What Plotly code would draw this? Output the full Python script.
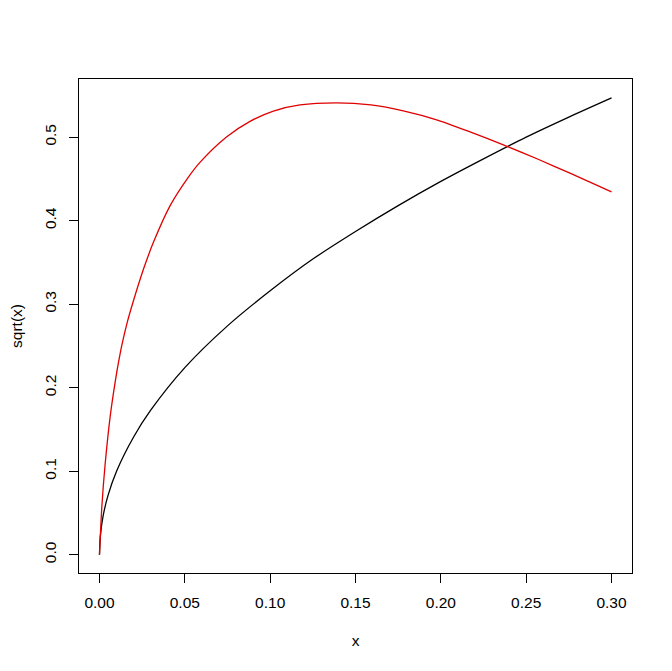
import plotly.graph_objects as go

# black curve: sqrt(x)
x_black = [0, 0.0005, 0.002, 0.005, 0.01, 0.02, 0.03, 0.05, 0.075, 0.1,
           0.125, 0.15, 0.175, 0.2, 0.225, 0.25, 0.275, 0.3]
y_black = [0, 0.022, 0.045, 0.071, 0.100, 0.141, 0.173, 0.224, 0.274, 0.316,
           0.354, 0.387, 0.418, 0.447, 0.474, 0.500, 0.524, 0.547]

# red curve
x_red = [0, 0.0014, 0.0033, 0.0063, 0.0096, 0.0113, 0.0131, 0.0163, 0.0196,
         0.0258, 0.0316, 0.0414, 0.0521, 0.059, 0.0746, 0.0882, 0.1019, 0.1175,
         0.139, 0.159, 0.178, 0.198, 0.2175, 0.237, 0.257, 0.276, 0.3]
y_red = [0, 0.058, 0.108, 0.166, 0.212, 0.232, 0.251, 0.2785, 0.302,
         0.342, 0.374, 0.418, 0.4522, 0.4701, 0.5005, 0.5189, 0.5312, 0.5385,
         0.541, 0.5385, 0.5315, 0.5205, 0.506, 0.4905, 0.4735, 0.4565, 0.4345]

x_ticks = [0, 0.05, 0.10, 0.15, 0.20, 0.25, 0.30]
x_ticklabels = ["0.00", "0.05", "0.10", "0.15", "0.20", "0.25", "0.30"]
y_ticks = [0, 0.1, 0.2, 0.3, 0.4, 0.5]
y_ticklabels = ["0.0", "0.1", "0.2", "0.3", "0.4", "0.5"]

font = dict(family="Liberation Sans, Arial, sans-serif", size=15.5, color="black")

fig = go.Figure()
fig.add_trace(go.Scatter(x=x_black, y=y_black, mode="lines",
                         line=dict(color="black", width=1.3, shape="spline", smoothing=0.8)))
fig.add_trace(go.Scatter(x=x_red, y=y_red, mode="lines",
                         line=dict(color="#e00000", width=1.3, shape="spline", smoothing=0.8)))

axis_common = dict(
    showgrid=False, zeroline=False, automargin=False,
    showline=True, linecolor="black", linewidth=1, mirror=True,
    ticks="outside", ticklen=9, tickwidth=1, tickcolor="black",
    tickfont=font,
)

# the page body adds an 8px offset, so margins are shifted to compensate
fig.update_layout(
    width=672, height=671,
    margin=dict(l=71, r=48, t=71, b=106),
    paper_bgcolor="white", plot_bgcolor="white",
    showlegend=False,
    font=font,
    xaxis=dict(range=[-0.012, 0.312], tickvals=x_ticks, ticktext=x_ticklabels,
               ticklabelstandoff=6,
               title=dict(text="x", font=font, standoff=25), **axis_common),
    yaxis=dict(range=[-0.0219, 0.5696], tickvals=y_ticks, ticktext=y_ticklabels,
               tickangle=-90, ticklabelstandoff=7,
               title=dict(text="sqrt(x)", font=font, standoff=17), **axis_common),
)

fig.write_html("out.html")
